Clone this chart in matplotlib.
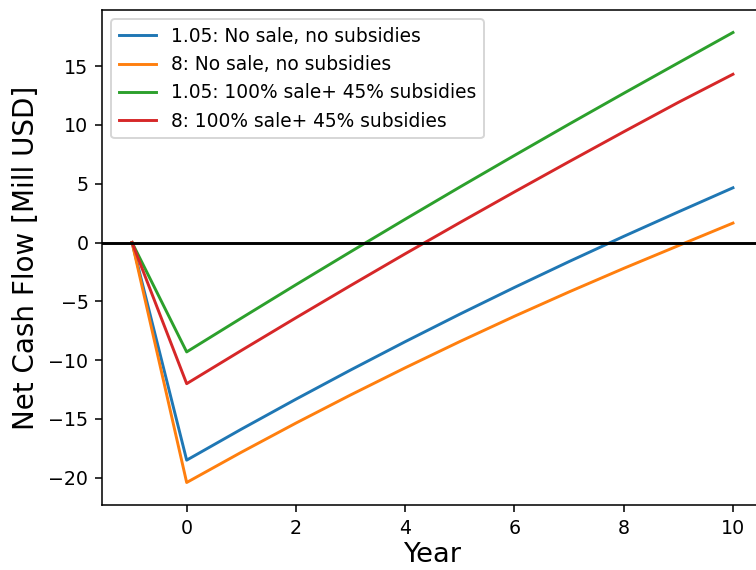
import matplotlib
matplotlib.use("Agg")
import matplotlib.pyplot as plt


# Years: -1 is the investment year, then 10 years of operation
years = [-1, 0, 1, 2, 3, 4, 5, 6, 7, 8, 9, 10]

# Cumulative net cash flow [Mill USD]
ncf_105_no_sale = [0.0, -18.5, -15.87, -13.32, -10.84, -8.43, -6.09, -3.82, -1.62, 0.52, 2.60, 4.65]
ncf_8_no_sale = [0.0, -20.4, -17.83, -15.35, -12.96, -10.65, -8.42, -6.27, -4.20, -2.20, -0.27, 1.65]
ncf_105_sale_sub = [0.0, -9.3, -6.43, -3.59, -0.79, 1.98, 4.71, 7.40, 10.06, 12.68, 15.27, 17.85]
ncf_8_sale_sub = [0.0, -12.0, -9.18, -6.40, -3.66, -0.96, 1.69, 4.30, 6.87, 9.41, 11.91, 14.30]

labels = [
    "1.05: No sale, no subsidies",
    "8: No sale, no subsidies",
    "1.05: 100% sale+ 45% subsidies",
    "8: 100% sale+ 45% subsidies",
]


def main():
    fig = plt.figure(figsize=(5.4, 570 / 140), dpi=140)
    ax = fig.add_axes([102 / 756, 1 - 505 / 570, 661 / 756, 495 / 570])

    series = [ncf_105_no_sale, ncf_8_no_sale, ncf_105_sale_sub, ncf_8_sale_sub]
    for values, label in zip(series, labels):
        ax.plot(years, values, label=label)

    ax.axhline(0, color="black", linewidth=1.5)

    ax.set_xticks([0, 2, 4, 6, 8, 10])
    ax.set_yticks([-20, -15, -10, -5, 0, 5, 10, 15])
    ax.tick_params(labelsize=9.8)
    ax.set_xlabel("Year", fontsize=14, labelpad=2)
    ax.set_ylabel("Net Cash Flow [Mill USD]", fontsize=14.3)
    ax.legend(loc="upper left", fontsize=9.6)

    fig.savefig("out.png", dpi=140)
    plt.close(fig)


if __name__ == "__main__":
    main()
